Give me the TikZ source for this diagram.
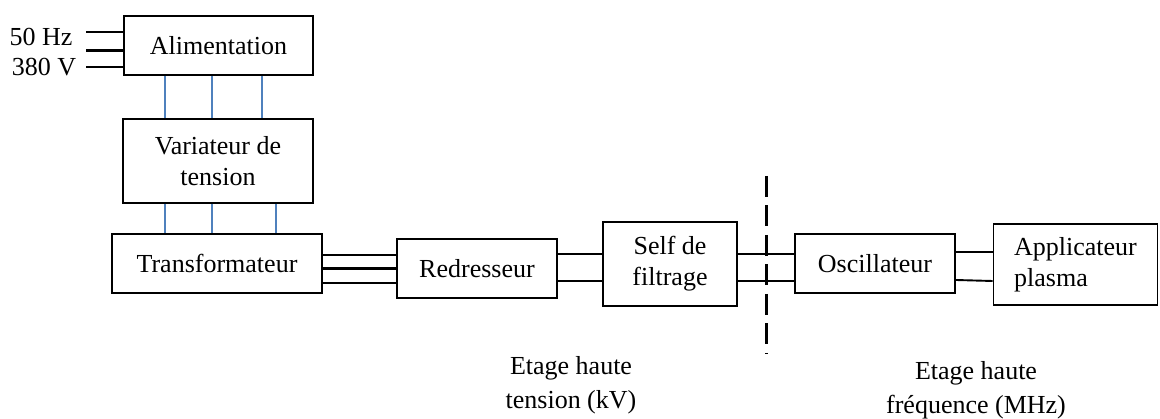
\documentclass[tikz,border=0pt]{standalone}
\usepackage{fontspec}
\setmainfont{Liberation Serif}
\usetikzlibrary{calc}

\definecolor{linkblue}{RGB}{79,129,189}

\tikzset{
  bloc/.style={draw, line width=1.9pt, inner sep=0pt, align=center,
    font=\fontsize{26}{31}\selectfont},
  wire/.style={line width=1.9pt},
  busblue/.style={line width=1.9pt, linkblue},
  legend/.style={align=center, font=\fontsize{26}{34}\selectfont}
}

\begin{document}
\begin{tikzpicture}[x=1pt, y=-1pt]
  \useasboundingbox (0,0) rectangle (1160,419);

  % Boxes
  \node[bloc, minimum width=189, minimum height=59] (alim) at (218.5,45.5) {Alimentation};
  \node[bloc, minimum width=190, minimum height=84] (var) at (218,161) {Variateur de\\tension};
  \node[bloc, minimum width=210, minimum height=59] (trans) at (217,263.5) {Transformateur};
  \node[bloc, minimum width=160, minimum height=59] (redr) at (477,268.5) {Redresseur};
  \node[bloc, minimum width=134, minimum height=84] (self) at (670,264) {Self de\\filtrage};
  \node[bloc, minimum width=160, minimum height=59] (osc) at (875,263.5) {Oscillateur};
  \node[bloc, minimum width=164, minimum height=81, align=left] (appl) at (1075.5,264.5) {Applicateur\\plasma};

  % Mains input
  \foreach \dy/\w in {-13.5/1.9, 5.5/3, 21.5/1.9}
    \draw[line width=\w pt] ($(alim.west)+(-37,\dy)$) -- ($(alim.west)+(0,\dy)$);
  \node[legend, font=\fontsize{26}{31}\selectfont] (hz) at (41,37) {50 Hz};
  \node[legend, font=\fontsize{26}{31}\selectfont] (volt) at (44,67) {380 V};

  % Three-phase links
  \foreach \dx in {42,89,139}
    \draw[busblue] ($(alim.south west)+(\dx,0)$) coordinate (p) -- (p |- var.north);
  \foreach \dx in {43,90,154}
    \draw[busblue] ($(var.south west)+(\dx,0)$) coordinate (p) -- (p |- trans.north);
  \foreach \dy/\w in {-13.5/1.9, 0.5/3, 14.5/1.9}
    \draw[line width=\w pt] ($(redr.west)+(0,\dy)$) coordinate (p) -- (p -| trans.east);

  % DC and HF links
  \foreach \dy in {-14.5,12.5}
    \draw[wire] ($(redr.east)+(0,\dy)$) coordinate (p) -- (p -| self.west);
  \foreach \dy in {-9.5,17.5}
    \draw[wire] ($(osc.west)+(0,\dy)$) coordinate (p) -- (p -| self.east);
  \draw[wire] ($(osc.east)+(0,-11.5)$) coordinate (p) -- (p -| appl.west);
  \draw[wire] ($(osc.east)+(0,16.5)$) -- ($(appl.west)+(0,16.5)$);

  % Stage boundary
  \coordinate (cuttop) at (766.7,176);
  \coordinate (cutbot) at (766.7,354);
  \draw[line width=2.7pt, dash pattern=on 21pt off 8.5pt] (cuttop) -- (cutbot);

  % Stage labels
  \node[legend] (ht) at (571,385) {Etage haute\\tension (kV)};
  \node[legend] (hf) at (976,390) {Etage haute\\fréquence (MHz)};

\end{tikzpicture}
\end{document}
